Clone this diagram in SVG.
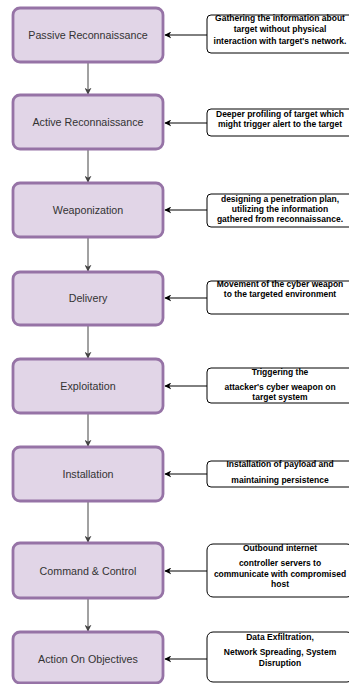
<svg xmlns="http://www.w3.org/2000/svg" width="349" height="684" viewBox="0 0 349 684">
  <style>
    .stage rect { fill: #e1d5e7; stroke: #9673a6; stroke-width: 2.8; }
    .stage text { font-family: "Liberation Sans", Arial, sans-serif; font-size: 10.7px; fill: #333333; text-anchor: middle; }
    .note rect { fill: #ffffff; stroke: #000000; stroke-width: 1; }
    .note text { font-family: "Liberation Sans", Arial, sans-serif; font-size: 8.5px; font-weight: bold; fill: #000000; text-anchor: middle; }
    .flow { stroke: #444444; stroke-width: 1; fill: none; }
    .feed { stroke: #000000; stroke-width: 1; fill: none; }
  </style>
  <defs>
    <marker id="arrowDark" viewBox="0 0 10 10" refX="9" refY="5" markerWidth="7" markerHeight="7" markerUnits="userSpaceOnUse" orient="auto">
      <path d="M0,0 L10,5 L0,10 L3,5 Z" fill="#444444"/>
    </marker>
    <marker id="arrowBlack" viewBox="0 0 10 10" refX="9" refY="5" markerWidth="7" markerHeight="7" markerUnits="userSpaceOnUse" orient="auto">
      <path d="M0,0 L10,5 L0,10 L3,5 Z" fill="#000000"/>
    </marker>
  </defs>

  <!-- connectors -->
  <g id="connectors">
    <line class="flow" x1="88" y1="62" x2="88" y2="94" marker-end="url(#arrowDark)"/>
    <line class="flow" x1="88" y1="149" x2="88" y2="182" marker-end="url(#arrowDark)"/>
    <line class="flow" x1="88" y1="237" x2="88" y2="271" marker-end="url(#arrowDark)"/>
    <line class="flow" x1="88" y1="325" x2="88" y2="358" marker-end="url(#arrowDark)"/>
    <line class="flow" x1="88" y1="413" x2="88" y2="446" marker-end="url(#arrowDark)"/>
    <line class="flow" x1="88" y1="501" x2="88" y2="542" marker-end="url(#arrowDark)"/>
    <line class="flow" x1="88" y1="598" x2="88" y2="631" marker-end="url(#arrowDark)"/>

    <line class="feed" x1="207" y1="35" x2="165" y2="35" marker-end="url(#arrowBlack)"/>
    <line class="feed" x1="207" y1="123" x2="165" y2="123" marker-end="url(#arrowBlack)"/>
    <line class="feed" x1="207" y1="210" x2="165" y2="210" marker-end="url(#arrowBlack)"/>
    <line class="feed" x1="207" y1="298" x2="165" y2="298" marker-end="url(#arrowBlack)"/>
    <line class="feed" x1="207" y1="386" x2="165" y2="386" marker-end="url(#arrowBlack)"/>
    <line class="feed" x1="207" y1="474" x2="165" y2="474" marker-end="url(#arrowBlack)"/>
    <line class="feed" x1="207" y1="571" x2="165" y2="571" marker-end="url(#arrowBlack)"/>
    <line class="feed" x1="207" y1="659" x2="165" y2="659" marker-end="url(#arrowBlack)"/>
  </g>

  <!-- kill chain stages -->
  <g id="stage-passive" class="stage">
    <rect x="13" y="8" width="150" height="54" rx="7"/>
    <text x="88" y="39">Passive Reconnaissance</text>
  </g>
  <g id="stage-active" class="stage">
    <rect x="13" y="95" width="150" height="54" rx="7"/>
    <text x="88" y="126">Active Reconnaissance</text>
  </g>
  <g id="stage-weaponization" class="stage">
    <rect x="13" y="183" width="150" height="54" rx="7"/>
    <text x="88" y="214">Weaponization</text>
  </g>
  <g id="stage-delivery" class="stage">
    <rect x="13" y="272" width="150" height="53" rx="7"/>
    <text x="88" y="302">Delivery</text>
  </g>
  <g id="stage-exploitation" class="stage">
    <rect x="13" y="359" width="150" height="54" rx="7"/>
    <text x="88" y="390">Exploitation</text>
  </g>
  <g id="stage-installation" class="stage">
    <rect x="13" y="447" width="150" height="54" rx="7"/>
    <text x="88" y="478">Installation</text>
  </g>
  <g id="stage-c2" class="stage">
    <rect x="13" y="543" width="150" height="55" rx="7"/>
    <text x="88" y="575">Command &amp; Control</text>
  </g>
  <g id="stage-actions" class="stage">
    <rect x="13" y="632" width="150" height="51" rx="7"/>
    <text x="88" y="663">Action On Objectives</text>
  </g>

  <!-- descriptions -->
  <g id="note-passive" class="note">
    <rect x="207" y="15" width="146" height="38" rx="4"/>
    <text x="280" y="21">Gathering the information about</text>
    <text x="280" y="32">target without physical</text>
    <text x="280" y="44">interaction with target's network.</text>
  </g>
  <g id="note-active" class="note">
    <rect x="207" y="109" width="146" height="27" rx="4"/>
    <text x="280" y="117">Deeper profiling of target which</text>
    <text x="280" y="127">might trigger alert to the target</text>
  </g>
  <g id="note-weaponization" class="note">
    <rect x="207" y="194" width="146" height="33" rx="4"/>
    <text x="280" y="202">designing a penetration plan,</text>
    <text x="280" y="212">utilizing the information</text>
    <text x="280" y="222">gathered from reconnaissance.</text>
  </g>
  <g id="note-delivery" class="note">
    <rect x="207" y="281" width="146" height="33" rx="4"/>
    <text x="280" y="287">Movement of the cyber weapon</text>
    <text x="280" y="297">to the targeted environment</text>
  </g>
  <g id="note-exploitation" class="note">
    <rect x="207" y="368" width="146" height="35" rx="4"/>
    <text x="280" y="375">Triggering the</text>
    <text x="280" y="390">attacker's cyber weapon on</text>
    <text x="280" y="400">target system</text>
  </g>
  <g id="note-installation" class="note">
    <rect x="207" y="461" width="146" height="26" rx="4"/>
    <text x="280" y="467">Installation of payload and</text>
    <text x="280" y="483">maintaining persistence</text>
  </g>
  <g id="note-c2" class="note">
    <rect x="207" y="544" width="146" height="53" rx="6"/>
    <text x="280" y="551">Outbound internet</text>
    <text x="280" y="566">controller servers to</text>
    <text x="280" y="577">communicate with compromised</text>
    <text x="280" y="587">host</text>
  </g>
  <g id="note-actions" class="note">
    <rect x="207" y="632" width="146" height="50" rx="6"/>
    <text x="280" y="640">Data Exfiltration,</text>
    <text x="280" y="655">Network Spreading, System</text>
    <text x="280" y="666">Disruption</text>
  </g>
</svg>
